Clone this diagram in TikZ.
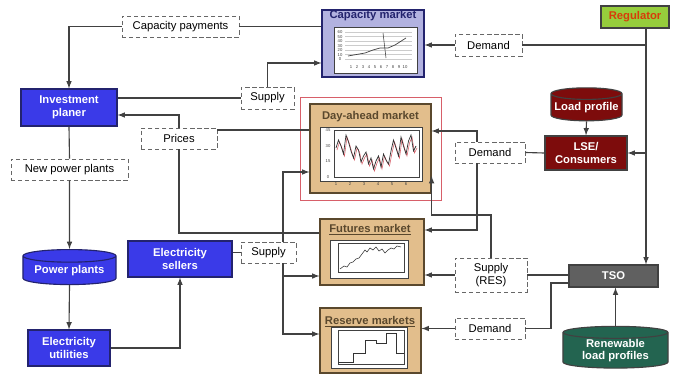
\documentclass[tikz,border=0pt]{standalone}
\usepackage{fontspec}
\setmainfont{Liberation Sans}
\usepackage{xcolor}
\definecolor{Col1}{RGB}{58,58,232}
\definecolor{Col2}{RGB}{35,35,110}
\definecolor{Col3}{RGB}{178,178,224}
\definecolor{Col4}{RGB}{226,190,140}
\definecolor{Col5}{RGB}{90,72,45}
\definecolor{Col6}{RGB}{125,12,12}
\definecolor{Col7}{RGB}{150,205,60}
\definecolor{Col8}{RGB}{96,96,96}
\definecolor{Col9}{RGB}{35,100,80}
\definecolor{Col10}{RGB}{65,65,65}
\definecolor{Col11}{RGB}{215,95,105}
\definecolor{Col12}{RGB}{215,60,10}
\usepackage{tikz}
\usetikzlibrary{shapes.geometric}
\tikzstyle{Box}=[rectangle,draw=Col2,fill=Col1,text=white,inner sep=0pt,
align=center,thick,font=\fontsize{8}{9}\selectfont\bfseries]
\tikzstyle{Drum}=[Box,cylinder,shape border rotate=90,aspect=.18]
\tikzstyle{Label}=[rectangle,draw=Col10!80,densely dashed,fill=white,
inner sep=0pt,align=center,font=\fontsize{8}{9.5}\selectfont]
\tikzstyle{Market}=[rectangle,draw=Col5,fill=Col4,thick,inner sep=0pt]
\tikzstyle{Title}=[inner sep=0pt,text=Col5,font=\fontsize{8}{9}\selectfont\bfseries]
\tikzstyle{Chart}=[draw=Col10,fill=white,line width=.4pt]
\tikzstyle{Edge}=[draw=Col10,line width=.8pt]
\tikzstyle{Arrow}=[Edge,-latex]
\tikzstyle{NodeST}=[inner sep=0pt,text=Col10,font=\fontsize{3}{3}\selectfont]

\begin{document}
\begin{tikzpicture}[x=.025cm,y=-.025cm]
            \useasboundingbox(0,0)rectangle(682,375);
            \node[Market,fill=Col3,draw=Col2,minimum width=2.55cm,
                minimum height=1.675cm](cap)at(373,43.5){};
            \node[Title,text=Col2](capT)at(373,16){Capacity market};
            \node[Box,fill=Col7,draw=Col10,text=Col12,minimum width=1.7cm,
                minimum height=.55cm](reg)at(635,17){Regulator};
            \node[Label,minimum width=1.675cm,minimum height=.55cm](dem1)
                at(488.5,45){Demand};
            \node[Label,minimum width=2.925cm,minimum height=.525cm](cpay)
                at(180.5,26.5){Capacity payments};
            \node[Label,minimum width=1.325cm,minimum height=.55cm](sup1)
                at(267.5,98){Supply};
            \node[Box,minimum width=2.4cm,minimum height=.925cm](inv)
                at(69,107.5){Investment\\planer};
            \node[Label,minimum width=1.9cm,minimum height=.525cm](pri)
                at(179,138.5){Prices};
            \node[Label,minimum width=2.925cm,minimum height=.525cm](npp)
                at(69.5,169.5){New power plants};
            \node[Drum,minimum width=2.325cm,minimum height=.875cm](pp)
                at(69.5,270.5){Power plants};
            \node[Box,minimum width=2.05cm,minimum height=.9cm](util)
                at(69,348){Electricity\\utilities};
            \node[Box,minimum width=2.6cm,minimum height=.9cm](sell)
                at(180,259){Electricity\\sellers};
            \node[Label,minimum width=1.375cm,minimum height=.525cm](sup2)
                at(268.5,252.5){Supply};
            \node[draw=Col11,line width=.6pt,inner sep=0pt,minimum width=3.525cm,
                minimum height=2.575cm](dafr)at(370.5,148.5){};
            \node[Market,minimum width=3.025cm,minimum height=2.225cm](da)
                at(370.5,148.5){};
            \node[Title](daT)at(370.5,117){Day-ahead market};
            \node[Market,minimum width=2.6cm,minimum height=1.65cm](fut)
                at(372,252){};
            \node[Title](futT)at(370,230){\underline{Futures market}};
            \node[Market,minimum width=2.525cm,minimum height=1.625cm](res)
                at(370.5,340.5){};
            \node[Title](resT)at(370,322){\underline{Reserve markets}};
            \node[Drum,fill=Col6,draw=Col10,minimum width=1.775cm,
                minimum height=.825cm](lp)at(586.5,107.5){Load profile};
            \node[Box,fill=Col6,draw=Col10,minimum width=2.05cm,
                minimum height=.85cm](lse)at(586,153){LSE/\\Consumers};
            \node[Label,minimum width=1.75cm,minimum height=.525cm](dem2)
                at(490,152.5){Demand};
            \node[Label,minimum width=1.8cm,minimum height=.85cm](rsup)
                at(491,275){Supply\\(RES)};
            \node[Box,fill=Col8,draw=Col10,minimum width=2.225cm,
                minimum height=.55cm](tso)at(613.5,276){TSO};
            \node[Label,minimum width=1.75cm,minimum height=.525cm](dem3)
                at(490,328.5){Demand};
            \node[Drum,fill=Col9,draw=Col10,minimum width=2.625cm,
                minimum height=1.025cm](rlp)at(615.5,350.5){Renewable\\load profiles};
            %
            \draw[Chart](334,27)rectangle(417,73);
            \foreach \v[count=\i] in {0,10,20,30,40,50,60}{
                \draw[gray!40,line width=.2pt](345,63.5-\i*4.5)--(412,63.5-\i*4.5);
                \node[NodeST](cy\i)at(340,64-\i*4.5){\v};}
            \foreach \i in {1,...,10}
                \node[NodeST](cx\i)at(345+\i*6,67){\i};
            \draw[Col10,line width=.5pt](348,56)--(365,53)--(373,50)--(380,48)
                --(388,48)--(395,45)--(406,38);
            \draw[Col10,line width=.4pt](383,33)--(386,58);
            %
            \draw[Chart](320,127)rectangle(422,181);
            \draw[line width=.3pt,Col10](334,130)rectangle(419,177);
            \foreach \v[count=\i] in {0,15,30,45}
                \node[NodeST](dy\i)at(328,177-\i*15.6+15.6){\v};
            \foreach \i in {1,...,6}
                \node[NodeST](dx\i)at(322+\i*14,184){\i};
            \draw[Col11,line width=.4pt,shift={(1,2)}]plot coordinates{
                (336,148)(338.5,140)(341,146)(343.5,154)(346,135)(348.5,142)
                (351,151)(353.5,158)(356,146)(358.5,150)(361,162)(363.5,156)
                (366,152)(368.5,164)(371,158)(373.5,169)(376,161)(378.5,156)
                (381,167)(383.5,154)(386,160)(388.5,164)(391,151)(393.5,140)
                (396,148)(398.5,156)(401,137)(403.5,146)(406,154)(408.5,141)
                (411,135)(413.5,151)(416,146)};
            \draw[black!80,line width=.5pt]plot coordinates{
                (336,148)(338.5,140)(341,146)(343.5,154)(346,135)(348.5,142)
                (351,151)(353.5,158)(356,146)(358.5,150)(361,162)(363.5,156)
                (366,152)(368.5,164)(371,158)(373.5,169)(376,161)(378.5,156)
                (381,167)(383.5,154)(386,160)(388.5,164)(391,151)(393.5,140)
                (396,148)(398.5,156)(401,137)(403.5,146)(406,154)(408.5,141)
                (411,135)(413.5,151)(416,146)};
            %
            \draw[Chart](330,240)rectangle(408,278);
            \draw[line width=.3pt,Col10](338,243)rectangle(404,272);
            \draw[black!80,line width=.4pt](340,269)--(344,266)--(347,267)--(350,263)
                --(353,262)--(356,259)--(359,258)--(362,254)--(365,250)--(367,252)
                --(370,248)--(373,250)--(376,247)--(379,251)--(382,249)--(385,253)
                --(388,250)--(391,248)--(394,249)--(397,246)--(401,247);
            %
            \draw[Chart](331,327)rectangle(407,368);
            \draw[line width=.3pt,Col10](338,330)rectangle(404,364);
            \draw[black!80,line width=.5pt](338,362)-|(353,353)-|(365,340)-|(376,343)
                -|(386,333)-|(396,353)--(404,353);
            %
            \coordinate(r)at(646,0);
            \coordinate(s)at(283,0);
            \coordinate(d)at(477,0);
            \draw[Edge](cpay.east)--(cap.west|-cpay.east);
            \draw[Arrow](cpay.west)-|(inv.north);
            \draw[Arrow](reg.south-|r)--(tso.north-|r);
            \draw[Edge](dem1.east)--(dem1.east-|r);
            \draw[Arrow](dem1.west)--(cap.east|-dem1.west);
            \draw[Arrow](lse.east-|r)--(lse.east);
            \draw[Edge](inv.east|-sup1)--(sup1.west);
            \draw[Arrow](sup1.north)|-(cap.west|-0,63);
            \draw[Arrow](pri.north)|-(inv.east|-0,115);
            \draw[Edge](pri.east|-0,130)--(da.west|-0,130);
            \draw[Edge](pri.south)|-(fut.west|-0,233);
            \draw[Edge](inv.south)--(npp.north);
            \draw[Arrow](npp.south)--(pp.north);
            \draw[Arrow](pp.south)--(util.north);
            \draw[Arrow](util.east)-|(sell.south);
            \draw[Edge](sell.east|-sup2.west)--(sup2.west);
            \draw[Arrow](s|-sup2.north)|-(da.west|-0,172);
            \draw[Arrow](s|-sup2.south)|-(fut.west|-0,276);
            \draw[Arrow](s|-sup2.south)|-(res.west|-0,334);
            \draw[Arrow](lp.south)--(lse.north);
            \draw[Edge](lse.west)--(dem2.east);
            \draw[Arrow](d|-dem2.north)|-(da.east|-0,131);
            \draw[Arrow](d|-dem2.south)|-(fut.east|-0,230);
            \draw[Edge](tso.west|-rsup.east)--(rsup.east);
            \draw[Arrow](rsup.west)--(fut.east|-rsup.west);
            \draw[Arrow](rsup.north)|-(da.east|-0,215)--(da.east|-0,176);
            \draw[Edge](tso.west|-0,283)--(551,283)|-(dem3.east);
            \draw[Arrow](dem3.west)--(res.east|-dem3.west);
            \draw[Arrow](rlp.north)--(tso.south-|rlp.north);
        \end{tikzpicture}
\end{document}
